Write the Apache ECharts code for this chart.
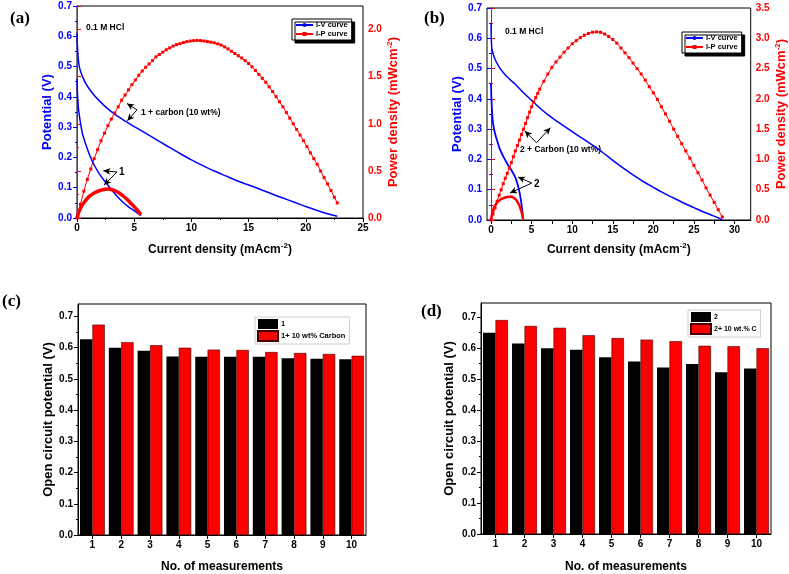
<!DOCTYPE html>
<html><head><meta charset="utf-8">
<script src="https://cdn.jsdelivr.net/npm/echarts@6/dist/echarts.min.js"></script>
<style>html,body{margin:0;padding:0;background:#fff}#c{width:789px;height:574px}</style>
</head><body><div id="c"></div>
<script>
// ---------- Panel (a) ----------
const aIVcarbonI = [0,0.02,0.05,0.1,0.2,0.35,0.5,0.75,1,1.5,2,2.5,3,3.5,4,5,6,7,8,9,10,11,12,13,14,15,16,17,18,19,20,21,22,22.75];
const aIVcarbonV = [0.61,0.58,0.56,0.53,0.50,0.48,0.465,0.445,0.43,0.405,0.385,0.367,0.351,0.337,0.325,0.302,0.28,0.257,0.235,0.213,0.192,0.173,0.155,0.139,0.123,0.109,0.095,0.08,0.066,0.052,0.038,0.025,0.013,0.006];
const aIPcarbonI = [0,0.3,0.6,0.9,1.2,1.5,1.8,2.1,2.4,2.7,3,3.3,3.6,3.9,4.2,4.5,4.8,5.1,5.4,5.7,6,6.3,6.6,6.9,7.2,7.5,7.8,8.1,8.4,8.7,9,9.3,9.6,9.9,10.2,10.5,10.8,11.1,11.4,11.7,12,12.3,12.6,12.9,13.2,13.5,13.8,14.1,14.4,14.7,15,15.3,15.6,15.9,16.2,16.5,16.8,17.1,17.4,17.7,18,18.3,18.6,18.9,19.2,19.5,19.8,20.1,20.4,20.7,21,21.3,21.6,21.9,22.2,22.5,22.75];
const aIPcarbonP = [0,0.145,0.285,0.41,0.52,0.63,0.725,0.82,0.9,0.98,1.05,1.115,1.18,1.25,1.305,1.36,1.415,1.465,1.515,1.56,1.6,1.635,1.67,1.71,1.735,1.76,1.785,1.805,1.825,1.84,1.85,1.862,1.872,1.878,1.882,1.885,1.883,1.879,1.872,1.866,1.86,1.848,1.835,1.816,1.795,1.77,1.746,1.722,1.698,1.67,1.64,1.605,1.566,1.524,1.482,1.44,1.392,1.342,1.288,1.234,1.18,1.12,1.06,1.0,0.94,0.88,0.82,0.758,0.692,0.63,0.57,0.498,0.428,0.362,0.292,0.22,0.16];
const aIV1I = [0,0.03,0.07,0.12,0.2,0.3,0.4,0.5,0.75,1.0,1.25,1.5,2.0,2.5,3.0,3.5,4.0,4.5,5.0,5.6];
const aIV1V = [0.46,0.42,0.39,0.365,0.34,0.315,0.293,0.275,0.245,0.218,0.195,0.175,0.143,0.118,0.094,0.072,0.053,0.037,0.024,0.008];
const aIP1I = [0,0.1,0.2,0.3,0.4,0.5,0.75,1.0,1.25,1.5,1.75,2.0,2.25,2.5,2.75,3.0,3.25,3.5,3.75,4.0,4.25,4.5,4.75,5.0,5.25,5.5,5.6];
const aIP1P = [0,0.04,0.075,0.10,0.125,0.145,0.185,0.22,0.245,0.265,0.28,0.292,0.30,0.305,0.307,0.302,0.292,0.278,0.26,0.238,0.212,0.183,0.152,0.12,0.085,0.05,0.035];
// ---------- Panel (b) ----------
const bIVcarbonI = [0,0.01,0.03,0.06,0.1,0.25,0.5,1,1.5,2,2.5,3,4,5,6,7,8,9,10,11,12,13,14,15,16,17,18,19,20,21,22,23,24,25,26,27,28,28.5];
const bIVcarbonV = [0.65,0.63,0.60,0.58,0.565,0.55,0.53,0.505,0.487,0.472,0.46,0.448,0.42,0.395,0.37,0.348,0.328,0.31,0.292,0.274,0.256,0.238,0.218,0.197,0.177,0.158,0.14,0.123,0.108,0.093,0.079,0.066,0.053,0.041,0.029,0.018,0.007,0.0];
const bIPcarbonI = [0,0.25,0.5,0.75,1,1.25,1.5,1.75,2,2.25,2.5,2.75,3,3.25,3.5,3.75,4,4.25,4.5,4.75,5,5.25,5.5,5.75,6,6.5,7,7.5,8,8.5,9,9.5,10,10.5,11,11.5,12,12.5,13,13.5,14,14.5,15,15.5,16,16.5,17,17.5,18,18.5,19,19.5,20,20.5,21,21.5,22,22.5,23,23.5,24,24.5,25,25.5,26,26.5,27,27.5,28,28.5];
const bIPcarbonP = [0,0.10,0.20,0.31,0.41,0.50,0.60,0.69,0.77,0.86,0.95,1.045,1.14,1.23,1.32,1.41,1.50,1.595,1.69,1.78,1.87,1.945,2.02,2.09,2.16,2.29,2.41,2.52,2.61,2.69,2.77,2.84,2.91,2.96,3.01,3.05,3.08,3.10,3.105,3.10,3.07,3.03,2.98,2.92,2.84,2.76,2.68,2.59,2.50,2.41,2.31,2.20,2.10,1.99,1.87,1.75,1.63,1.50,1.38,1.26,1.14,1.02,0.90,0.78,0.66,0.53,0.41,0.29,0.17,0.05];
const bIV2I = [0,0.02,0.05,0.1,0.2,0.3,0.5,0.75,1.0,1.5,2.0,2.5,3.0,3.25,3.5,3.7,3.85,3.95];
const bIV2V = [0.45,0.42,0.40,0.37,0.33,0.31,0.285,0.262,0.24,0.21,0.186,0.165,0.14,0.12,0.093,0.062,0.03,0.005];
const bIP2I = [0,0.1,0.2,0.35,0.5,0.75,1.0,1.25,1.5,1.75,2.0,2.25,2.5,2.75,3.0,3.25,3.5,3.7,3.85,3.95];
const bIP2P = [0,0.08,0.14,0.2,0.24,0.29,0.32,0.345,0.36,0.372,0.38,0.385,0.383,0.37,0.345,0.3,0.235,0.16,0.085,0.01];
// ---------- Panels (c), (d) ----------
const measurements = ['1','2','3','4','5','6','7','8','9','10'];
const cOCP1 = [0.627,0.600,0.590,0.572,0.571,0.571,0.571,0.566,0.565,0.563];
const cOCP1C = [0.674,0.618,0.608,0.600,0.594,0.593,0.586,0.583,0.580,0.574];
const dOCP2 = [0.649,0.614,0.599,0.594,0.570,0.556,0.537,0.548,0.522,0.534];
const dOCP2C = [0.690,0.671,0.665,0.641,0.632,0.627,0.622,0.607,0.606,0.599];
// ---------- tick labels ----------
const aXTicks = [0,5,10,15,20,25];
const bXTicks = [0,5,10,15,20,25,30];
const bXMinor = [0,2.5,5,7.5,10,12.5,15,17.5,20,22.5,25,27.5,30];
const aPTicks = [0,0.5,1.0,1.5,2.0];
const vTicks = [0,0.1,0.2,0.3,0.4,0.5,0.6,0.7];

const FONT = 'Liberation Sans';
const BLUE = '#0000ff', RED = '#ff0000';
const zip = (a, b) => a.map((x, i) => [x, b[i]]);
const lbl = (c, s) => ({color: c, fontWeight: 'bold', fontSize: s || 10, fontFamily: FONT});
const richName = (c, fs) => ({
  color: c, fontWeight: 'bold', fontFamily: FONT, fontSize: fs,
  rich: {t: {color: c, fontWeight: 'bold', fontFamily: FONT, fontSize: fs},
         s: {color: c, fontWeight: 'bold', fontFamily: FONT, fontSize: 8, padding: [0, 0, 8, 0]}}
});
const tick = (c, inside, len) => ({show: true, inside: !!inside, length: len || 4, lineStyle: {color: c, width: 1}});
const minor = (c, n) => ({show: true, splitNumber: n || 2, length: 2, lineStyle: {color: c, width: 1}});
const line = c => ({show: true, lineStyle: {color: c, width: 1}});
const txt = (t, x, y, fs, fam) => ({type: 'text', left: x, top: y,
  style: {text: t, fontSize: fs, fontWeight: 'bold', fontFamily: fam || FONT, fill: '#000'}});

const arrows = (pairs) => ({
  silent: true, symbol: ['none', 'arrow'], symbolSize: [5, 7], animation: false,
  lineStyle: {color: '#000', width: 1, type: 'solid'}, label: {show: false},
  emphasis: {disabled: true},
  data: pairs.map(p => [{coord: p[0]}, {coord: p[1]}])
});
const curveLegend = (x, y) => ({data: [{name: 'I-V curve'}, {name: 'I-P curve'}], left: x, top: y, orient: 'vertical',
  itemGap: 1, itemWidth: 17, itemHeight: 5, padding: [2, 4, 2, 3], backgroundColor: '#fff',
  borderColor: '#000', borderWidth: 1, shadowColor: '#000', shadowOffsetX: 3, shadowOffsetY: 3, shadowBlur: 0,
  selectedMode: false, textStyle: {fontSize: 7.5, fontWeight: 'bold', fontFamily: FONT, color: '#000', padding: [0, 0, 0, -2]}});
const barLegend = (names, x, y, fs) => ({data: names, left: x, top: y, orient: 'vertical', icon: 'rect',
  itemGap: 1, itemWidth: 20, itemHeight: 10, padding: [2, 4, 2, 2], borderColor: '#ccc', borderWidth: 1,
  selectedMode: false, textStyle: {fontSize: fs, fontWeight: 'bold', fontFamily: FONT, color: '#000', padding: [0, 0, 0, -2]}});

const option = {
  animation: false,
  backgroundColor: '#fff',
  grid: [
    {left: 77, top: 6, width: 286, height: 212, show: true, borderColor: '#000', borderWidth: 1},
    {left: 487, top: 8, width: 264, height: 212, show: true, borderColor: '#000', borderWidth: 1},
    {left: 78, top: 304, width: 288, height: 237, show: true, borderColor: '#000', borderWidth: 1},
    {left: 481, top: 303, width: 290, height: 236, show: true, borderColor: '#000', borderWidth: 1}
  ],
  xAxis: [
    {gridIndex: 0, type: 'value', position: 'bottom', min: 0, max: 25, interval: 5,
     axisLine: line('#000'), axisTick: tick('#000'), minorTick: minor('#000'), splitLine: {show: false},
     axisLabel: Object.assign(lbl('#000'), {margin: 5, customValues: aXTicks}),
     name: '{t|Current density (mAcm}{s|-2}{t|)}', nameLocation: 'middle', nameGap: 24,
     nameTextStyle: richName('#000', 12)},
    {gridIndex: 0, type: 'value', position: 'top', min: 0, max: 25, interval: 5,
     axisLine: line('#000'), axisTick: tick('#000', true), minorTick: minor('#000'), splitLine: {show: false},
     axisLabel: {show: false}},
    {gridIndex: 1, type: 'value', position: 'bottom', min: -0.5, max: 32,
     axisLine: line('#000'), axisTick: Object.assign(tick('#000'), {customValues: bXMinor}), splitLine: {show: false},
     axisLabel: Object.assign(lbl('#000'), {margin: 5, customValues: bXTicks}),
     name: '{t|Current density (mAcm}{s|-2}{t|)}', nameLocation: 'middle', nameGap: 22,
     nameTextStyle: richName('#000', 12)},
    {gridIndex: 1, type: 'value', position: 'top', min: -0.5, max: 32,
     axisLine: line('#000'), axisTick: Object.assign(tick('#000', true), {customValues: bXMinor}), splitLine: {show: false},
     axisLabel: {show: false}},
    {gridIndex: 2, type: 'category', data: measurements,
     axisLine: line('#000'), axisTick: Object.assign(tick('#000'), {alignWithLabel: true}),
     axisLabel: Object.assign(lbl('#000'), {margin: 5}),
     name: 'No. of measurements', nameLocation: 'middle', nameGap: 26,
     nameTextStyle: {color: '#000', fontWeight: 'bold', fontFamily: FONT, fontSize: 12}},
    {gridIndex: 3, type: 'category', data: measurements,
     axisLine: line('#000'), axisTick: Object.assign(tick('#000'), {alignWithLabel: true}),
     axisLabel: Object.assign(lbl('#000'), {margin: 5}),
     name: 'No. of measurements', nameLocation: 'middle', nameGap: 27,
     nameTextStyle: {color: '#000', fontWeight: 'bold', fontFamily: FONT, fontSize: 12}}
  ],
  yAxis: [
    {gridIndex: 0, type: 'value', position: 'left', min: 0, max: 0.7, interval: 0.1,
     axisLine: line(BLUE), axisTick: tick(BLUE), minorTick: minor(BLUE), splitLine: {show: false},
     axisLabel: Object.assign(lbl(BLUE), {margin: 5, formatter: v => v.toFixed(1)}),
     name: 'Potential (V)', nameLocation: 'middle', nameGap: 21,
     nameTextStyle: {color: BLUE, fontWeight: 'bold', fontFamily: FONT, fontSize: 13}},
    {gridIndex: 0, type: 'value', position: 'right', min: 0, max: 2.25, interval: 0.5,
     axisLine: line(RED), axisTick: tick(RED), minorTick: minor(RED), splitLine: {show: false},
     axisLabel: Object.assign(lbl(RED), {margin: 5, customValues: aPTicks, formatter: v => v.toFixed(1)}),
     name: '{t|Power density (mWcm}{s|-2}{t|)}', nameLocation: 'middle', nameGap: 21,
     nameTextStyle: richName(RED, 13)},
    {gridIndex: 1, type: 'value', position: 'left', min: 0, max: 0.7, interval: 0.1,
     axisLine: line(BLUE), axisTick: tick(BLUE), minorTick: minor(BLUE), splitLine: {show: false},
     axisLabel: Object.assign(lbl(BLUE), {margin: 5, formatter: v => v.toFixed(1)}),
     name: 'Potential (V)', nameLocation: 'middle', nameGap: 21,
     nameTextStyle: {color: BLUE, fontWeight: 'bold', fontFamily: FONT, fontSize: 13}},
    {gridIndex: 1, type: 'value', position: 'right', min: 0, max: 3.5, interval: 0.5,
     axisLine: line(RED), axisTick: tick(RED), minorTick: minor(RED), splitLine: {show: false},
     axisLabel: Object.assign(lbl(RED), {margin: 5, formatter: v => v.toFixed(1)}),
     name: '{t|Power density (mWcm}{s|-2}{t|)}', nameLocation: 'middle', nameGap: 22,
     nameTextStyle: richName(RED, 13)},
    {gridIndex: 2, type: 'value', min: 0, max: 0.74, interval: 0.1,
     axisLine: line('#000'), axisTick: Object.assign(tick('#000'), {customValues: vTicks}), minorTick: minor('#000'), splitLine: {show: false},
     axisLabel: Object.assign(lbl('#000'), {margin: 5, customValues: vTicks, formatter: v => v.toFixed(1)}),
     name: 'Open circuit potential (V)', nameLocation: 'middle', nameGap: 22,
     nameTextStyle: {color: '#000', fontWeight: 'bold', fontFamily: FONT, fontSize: 13}},
    {gridIndex: 3, type: 'value', min: 0, max: 0.745, interval: 0.1,
     axisLine: line('#000'), axisTick: Object.assign(tick('#000'), {customValues: vTicks}), minorTick: minor('#000'), splitLine: {show: false},
     axisLabel: Object.assign(lbl('#000'), {margin: 5, customValues: vTicks, formatter: v => v.toFixed(1)}),
     name: 'Open circuit potential (V)', nameLocation: 'middle', nameGap: 25,
     nameTextStyle: {color: '#000', fontWeight: 'bold', fontFamily: FONT, fontSize: 13}}
  ],
  legend: [
    curveLegend(292, 19),
    curveLegend(682, 32),
    barLegend(['1', '1+ 10 wt% Carbon'], 255, 317, 7.5),
    barLegend(['2', '2+ 10 wt.% C'], 688, 310, 7)
  ],
  series: [
    {name: 'I-V curve', type: 'line', xAxisIndex: 0, yAxisIndex: 0, data: zip(aIVcarbonI, aIVcarbonV),
     symbol: 'circle', symbolSize: 3, showSymbol: false, smooth: 0.3, lineStyle: {color: BLUE, width: 1.5}, itemStyle: {color: BLUE},
     markLine: arrows([[[5.24, 0.357], [4.37, 0.378]], [[5.24, 0.357], [4.40, 0.321]]])},
    {name: 'I-P curve', type: 'line', xAxisIndex: 0, yAxisIndex: 1, data: zip(aIPcarbonI, aIPcarbonP),
     symbol: 'rect', symbolSize: 3, lineStyle: {color: RED, width: 1}, itemStyle: {color: RED}},
    {name: 'a1 I-V', type: 'line', xAxisIndex: 0, yAxisIndex: 0, data: zip(aIV1I, aIV1V),
     showSymbol: false, smooth: 0.3, lineStyle: {color: BLUE, width: 1.5}, itemStyle: {color: BLUE},
     markLine: arrows([[[3.5, 0.152], [2.3, 0.156]], [[3.5, 0.152], [2.36, 0.109]]])},
    {name: 'a1 I-P', type: 'line', xAxisIndex: 0, yAxisIndex: 1, data: zip(aIP1I, aIP1P),
     showSymbol: false, smooth: 0.3, lineStyle: {color: RED, width: 3.5}, itemStyle: {color: RED}},

    {name: 'I-V curve', type: 'line', xAxisIndex: 2, yAxisIndex: 2, data: zip(bIVcarbonI, bIVcarbonV),
     symbol: 'circle', symbolSize: 3, showSymbol: false, smooth: 0.3, lineStyle: {color: BLUE, width: 1.5}, itemStyle: {color: BLUE},
     markLine: arrows([[[5.6, 0.255], [4.17, 0.294]], [[5.6, 0.255], [7.32, 0.305]]])},
    {name: 'I-P curve', type: 'line', xAxisIndex: 2, yAxisIndex: 3, data: zip(bIPcarbonI, bIPcarbonP),
     symbol: 'rect', symbolSize: 3, lineStyle: {color: RED, width: 1}, itemStyle: {color: RED}},
    {name: 'b2 I-V', type: 'line', xAxisIndex: 2, yAxisIndex: 2, data: zip(bIV2I, bIV2V),
     showSymbol: false, smooth: 0.3, lineStyle: {color: BLUE, width: 1.8}, itemStyle: {color: BLUE},
     markLine: arrows([[[5.02, 0.122], [3.32, 0.142]], [[5.02, 0.122], [2.33, 0.089]]])},
    {name: 'b2 I-P', type: 'line', xAxisIndex: 2, yAxisIndex: 3, data: zip(bIP2I, bIP2P),
     showSymbol: false, smooth: 0.3, lineStyle: {color: RED, width: 2.5}, itemStyle: {color: RED}},

    {name: '1', type: 'bar', xAxisIndex: 4, yAxisIndex: 4, data: cOCP1, barGap: '0%', barCategoryGap: '14%',
     itemStyle: {color: '#000'}},
    {name: '1+ 10 wt% Carbon', type: 'bar', xAxisIndex: 4, yAxisIndex: 4, data: cOCP1C, barGap: '0%', barCategoryGap: '14%',
     itemStyle: {color: RED, borderColor: '#400', borderWidth: 0.6}},
    {name: '2', type: 'bar', xAxisIndex: 5, yAxisIndex: 5, data: dOCP2, barGap: '0%', barCategoryGap: '14%',
     itemStyle: {color: '#000'}},
    {name: '2+ 10 wt.% C', type: 'bar', xAxisIndex: 5, yAxisIndex: 5, data: dOCP2C, barGap: '0%', barCategoryGap: '14%',
     itemStyle: {color: RED, borderColor: '#400', borderWidth: 0.6}}
  ],
  graphic: [
    txt('(a)', 10, 10, 17, 'Liberation Serif'),
    txt('(b)', 424, 10, 17, 'Liberation Serif'),
    txt('(c)', 2, 293, 17, 'Liberation Serif'),
    txt('(d)', 421, 303, 17, 'Liberation Serif'),
    txt('0.1 M HCl', 86, 23, 8.5),
    txt('0.1 M HCl', 505, 27, 8.5),
    txt('1 + carbon (10 wt%)', 141, 108, 8.5),
    txt('1', 119, 167, 10),
    txt('2 + Carbon (10 wt%)', 520, 145, 8.5),
    txt('2', 534, 179, 10)
  ]
};
const chart = echarts.init(document.getElementById('c'), null, {renderer: 'canvas'});
chart.setOption(option);
</script></body></html>
